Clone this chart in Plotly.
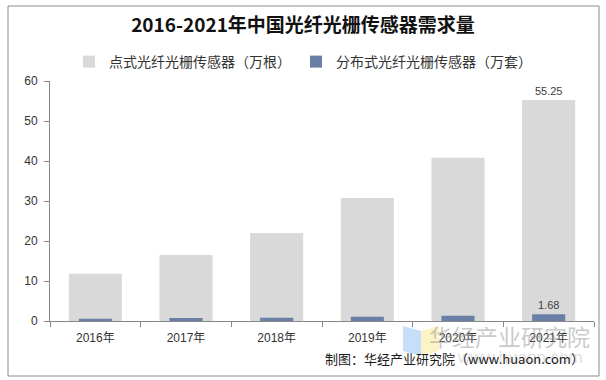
import plotly.graph_objects as go

years = ["2016年", "2017年", "2018年", "2019年", "2020年", "2021年"]
point_sensors = [11.8, 16.5, 22.0, 30.75, 40.8, 55.25]
dist_sensors = [0.55, 0.75, 0.8, 1.05, 1.3, 1.68]
point_name = "点式光纤光栅传感器（万根）"
dist_name = "分布式光纤光栅传感器（万套）"
point_labels = ["", "", "", "", "", "55.25"]
dist_labels = ["", "", "", "", "", "1.68"]

FONT = "Liberation Sans, Arial, Noto Sans CJK SC, sans-serif"
CJK = "Noto Sans CJK SC, sans-serif"

W, H = 606, 380
L, R, T, B = 50, 12, 81, 59
pw, ph = W - L - R, H - T - B

def px(x):
    return (x - L) / pw

def py(y):
    return (H - B - y) / ph

fig = go.Figure()
fig.add_trace(go.Bar(
    x=years, y=point_sensors, name=point_name,
    marker=dict(color="#d9d9d9", line=dict(width=0)),
    width=0.585,
    text=point_labels, textposition="outside",
    textfont=dict(family=FONT, size=11, color="#404040"),
    cliponaxis=False,
))
fig.add_trace(go.Bar(
    x=years, y=dist_sensors, name=dist_name,
    marker=dict(color="#6a7fa6", line=dict(width=0)),
    width=0.365,
    text=dist_labels, textposition="outside",
    textfont=dict(family=FONT, size=11, color="#404040"),
    cliponaxis=False,
))

shapes = [
    # outer border
    dict(type="rect", xref="paper", yref="paper",
         x0=px(8), x1=px(599), y0=py(376), y1=py(6),
         line=dict(color="#8c8c8c", width=1), fillcolor="rgba(0,0,0,0)", layer="below"),
    # watermark logo
    dict(type="path", xref="paper", yref="paper",
         path=f"M {px(403)} {py(326)} L {px(421)} {py(331)} L {px(421)} {py(356)} L {px(403)} {py(351)} Z",
         fillcolor="rgba(150,195,245,0.55)", line=dict(width=0), layer="above"),
    dict(type="path", xref="paper", yref="paper",
         path=f"M {px(421)} {py(331)} L {px(439)} {py(326)} L {px(439)} {py(351)} L {px(421)} {py(356)} Z",
         fillcolor="rgba(250,235,160,0.6)", line=dict(width=0), layer="above"),
]

annotations = [
    dict(text="华经产业研究院", xref="paper", yref="paper", x=px(592), y=py(336),
         xanchor="right", yanchor="middle",
         showarrow=False, font=dict(family=CJK, size=23, color="rgba(150,150,150,0.5)")),
    dict(text="www.huaon.com", xref="paper", yref="paper", x=px(585), y=py(357),
         xanchor="right", yanchor="middle",
         showarrow=False, font=dict(family=FONT, size=17, color="rgba(160,160,160,0.35)")),
    dict(text="制图：华经产业研究院（www.huaon.com）", xref="paper", yref="paper",
         x=px(586), y=py(358), xanchor="right", yanchor="middle", showarrow=False,
         font=dict(family=CJK, size=13, color="#1a1a1a")),
]

fig.update_layout(
    width=W, height=H,
    margin=dict(l=L, r=R, t=T, b=B, pad=0, autoexpand=False),
    paper_bgcolor="white", plot_bgcolor="white",
    barmode="overlay",
    title=dict(text="<b>2016-2021年中国光纤光栅传感器需求量</b>",
               x=0.5, xref="container", xanchor="center",
               y=1 - 25 / H, yref="container", yanchor="middle",
               font=dict(family=CJK, size=19, color="#111111")),
    legend=dict(orientation="h", x=0.5, xref="container", xanchor="center",
                y=1 - 62 / H, yref="container", yanchor="middle",
                font=dict(family=CJK, size=14, color="#333333"),
                itemwidth=30, traceorder="normal",
                bgcolor="rgba(0,0,0,0)"),
    xaxis=dict(showline=True, linecolor="#868686", linewidth=1,
               ticks="outside", ticklen=5, tickcolor="#868686",
               tickson="boundaries", showgrid=False, automargin=False,
               ticklabelstandoff=6,
               tickfont=dict(family=FONT, size=12, color="#333333")),
    yaxis=dict(range=[0, 60], dtick=10, showline=True, linecolor="#868686", linewidth=1,
               ticks="outside", ticklen=5, tickcolor="#868686", showgrid=False,
               zeroline=False, automargin=False, ticklabelstandoff=4,
               tickfont=dict(family=FONT, size=12, color="#333333")),
    shapes=shapes,
    annotations=annotations,
    showlegend=True,
)

fig.write_html("out.html", config={"displayModeBar": False},
               post_script="document.body.style.margin='0';")
